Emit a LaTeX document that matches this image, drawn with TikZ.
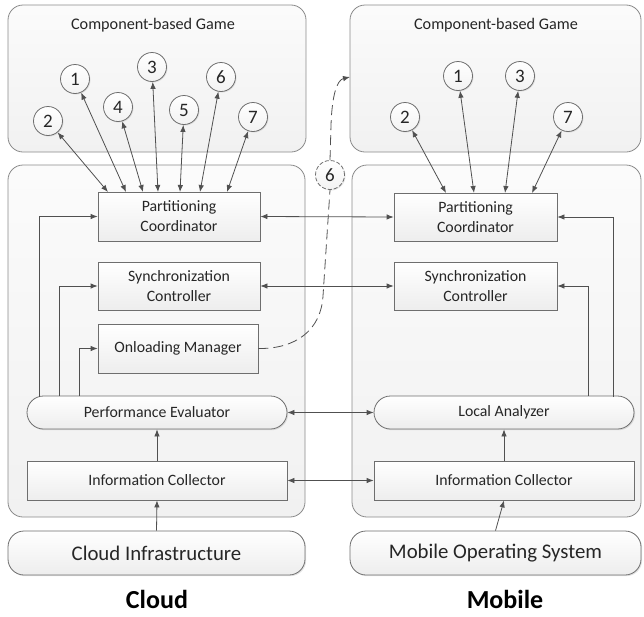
\documentclass[tikz,border=0pt]{standalone}
\usepackage{fontspec}
\setmainfont{Carlito}
\usetikzlibrary{arrows.meta,shadows,calc}
\definecolor{linec}{HTML}{505050}
\definecolor{boxc}{HTML}{6E6E6E}
\definecolor{contc}{HTML}{8A8A8A}
\definecolor{txtc}{HTML}{262626}
\tikzset{
  container/.style={draw=contc, line width=0.8pt, rounded corners=15pt, top color=gray!3, bottom color=gray!11},
  blk/.style={draw=boxc, line width=0.8pt, top color=white, bottom color=gray!14, text=txtc,
    font=\fontsize{15.8}{20}\selectfont, align=center, inner sep=0pt,
    drop shadow={shadow xshift=1.2pt, shadow yshift=-1.2pt, opacity=0.22}},
  pill/.style={blk, rounded corners=16.5pt},
  base/.style={blk, rounded corners=16pt, font=\fontsize{20.8}{22}\selectfont},
  circ/.style={circle, draw=boxc, line width=0.8pt, top color=white, bottom color=gray!10, text=txtc,
    minimum size=29pt, inner sep=0pt, font=\fontsize{19}{20}\selectfont,
    drop shadow={shadow xshift=1pt, shadow yshift=-1pt, opacity=0.2}},
  tip/.tip={Latex[length=7pt,width=5.5pt]},
  arr/.style={draw=linec, line width=0.8pt, -tip},
  dbl/.style={draw=linec, line width=0.8pt, tip-tip},
  ttl/.style={text=txtc, font=\fontsize{16.2}{18}\selectfont},
  side/.style={text=black, font=\bfseries\fontsize{26}{28}\selectfont}
}
\begin{document}
\begin{tikzpicture}[x=1pt,y=-1pt]
\useasboundingbox (0,0) rectangle (644,616);
% containers
\path[container] (8,5) rectangle (306,152);
\path[container] (350,5) rectangle (641,152);
\path[container] (8,165) rectangle (305,517);
\path[container] (352,165) rectangle (641,517);
\node[ttl] (tL) at (153,25) {Component-based Game};
\node[ttl] (tR) at (496,25) {Component-based Game};
% left blocks
\node[blk, minimum width=162pt, minimum height=49pt] (pcL) at (179,216.5) {Partitioning\\Coordinator};
\node[blk, minimum width=162pt, minimum height=48pt] (scL) at (179,286) {Synchronization\\Controller};
\node[blk, minimum width=160pt, minimum height=49pt] (om) at (178,348.5) {Onloading Manager};
\node[pill, minimum width=260pt, minimum height=33pt] (pe) at (157,412.5) {Performance Evaluator};
\node[blk, minimum width=260pt, minimum height=39pt] (icL) at (157,480.5) {Information Collector};
\node[base, minimum width=297pt, minimum height=44pt] (ci) at (156.5,553) {Cloud Infrastructure};
% right blocks
\node[blk, minimum width=163pt, minimum height=48pt] (pcR) at (475.5,217) {Partitioning\\Coordinator};
\node[blk, minimum width=163pt, minimum height=48pt] (scR) at (475.5,286) {Synchronization\\Controller};
\node[pill, minimum width=260pt, minimum height=33pt] (la) at (504,412.5) {Local Analyzer};
\node[blk, minimum width=260pt, minimum height=39pt] (icR) at (504,480.5) {Information Collector};
\node[base, minimum width=291pt, minimum height=44pt] (mos) at (495.5,553) {Mobile Operating System};
% side labels
\node[side] (cloud) at (157,599) {Cloud};
\node[side] (mobile) at (505,599) {Mobile};
% circles left
\node[circ] (c1) at (75,79) {1};
\node[circ] (c2) at (48,121) {2};
\node[circ] (c3) at (152,67) {3};
\node[circ] (c4) at (118,107) {4};
\node[circ] (c5) at (184,110) {5};
\node[circ] (c6) at (221,77) {6};
\node[circ] (c7) at (253,117) {7};
% circles right
\node[circ] (r1) at (458,76) {1};
\node[circ] (r3) at (520,76) {3};
\node[circ] (r2) at (405,117) {2};
\node[circ] (r7) at (568,117) {7};
% dashed circle 6
\node[circ, dashed, dash pattern=on 4pt off 2pt] (d6) at (330,175) {6};
% attach points on PC tops
\coordinate (a2) at (108,192);
\coordinate (a1) at (126,192);
\coordinate (a4) at (143,192);
\coordinate (a3) at (158,192);
\coordinate (a5) at (180,192);
\coordinate (a6) at (200,192);
\coordinate (a7) at (227,192);
\coordinate (b2) at (446,193);
\coordinate (b1) at (474,193);
\coordinate (b3) at (505,193);
\coordinate (b7) at (532,193);
\foreach \i in {1,...,7} { \draw[dbl] (c\i) -- (a\i); }
\foreach \i in {1,2,3,7} { \draw[dbl] (r\i) -- (b\i); }
% horizontal links
\draw[dbl] (pcL.east) -- (pcR.west);
\draw[dbl] (scL.east) -- (scR.west);
\draw[dbl] (pe.east) -- (la.west);
\draw[dbl] (icL.east) -- (icR.west);
% vertical flows
\draw[arr] (icL.north) -- (pe.south);
\draw[arr] (icR.north) -- (la.south);
\draw[arr] (ci.north) -- (icL.south);
\draw[arr] (mos.north) -- (icR.south);
% feedback lines left
\coordinate (pf1) at (39,397);
\coordinate (pf2) at (59,396);
\coordinate (pf3) at (79,396);
\draw[arr] (pf1) |- (pcL.west);
\draw[arr] (pf2) |- (scL.west);
\draw[arr] (pf3) |- (om.west);
% feedback lines right
\coordinate (lf1) at (613,397);
\coordinate (lf2) at (588,396);
\draw[arr] (lf1) |- (pcR.east);
\draw[arr] (lf2) |- (scR.east);
% dashed onloading path
\coordinate (gend) at (350,77);
\draw[draw=linec, line width=0.8pt, dash pattern=on 10pt off 5pt]
  (om.east) .. controls (296,349) and (321,330) .. (323,296) -- (d6.south);
\draw[draw=linec, line width=0.8pt, dash pattern=on 10pt off 5pt, -tip]
  (d6.north) -- (331,125) .. controls (332,95) and (337,80) .. (gend);
\end{tikzpicture}
\end{document}
